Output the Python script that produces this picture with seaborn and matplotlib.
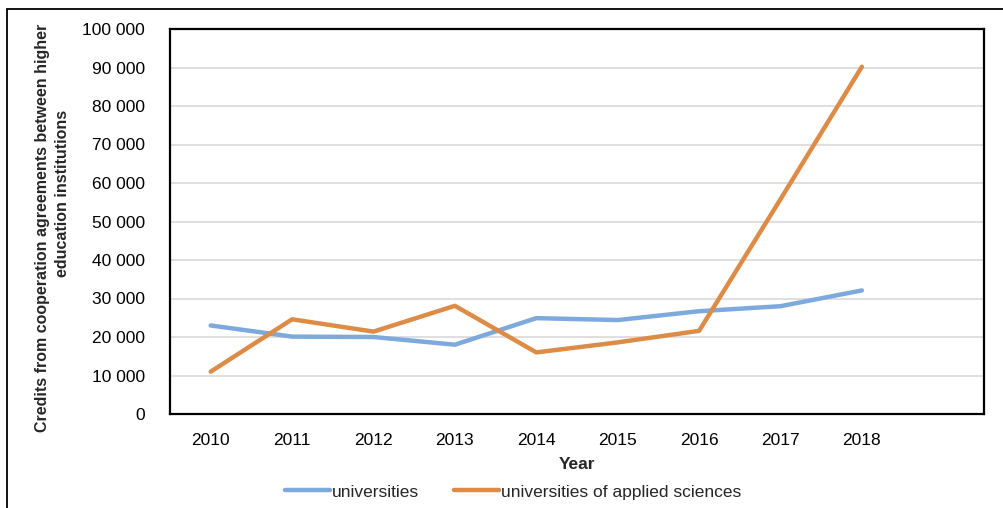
import matplotlib
matplotlib.use("Agg")
import matplotlib.pyplot as plt
import matplotlib.ticker as mticker
from matplotlib import font_manager
from matplotlib.patches import Rectangle
import seaborn as sns
import pandas as pd

# values
years = [2010, 2011, 2012, 2013, 2014, 2015, 2016, 2017, 2018]
universities = [23000, 20100, 20000, 18000, 24900, 24400, 26700, 28000, 32100]
applied_sciences = [11000, 24600, 21400, 28100, 16000, 18600, 21600, 55800, 90200]
series_names = ["universities", "universities of applied sciences"]
colors = ["#7ea9dc", "#dd8c47"]

df = pd.DataFrame({
    "Year": years * 2,
    "Credits": universities + applied_sciences,
    "Series": [series_names[0]] * len(years) + [series_names[1]] * len(years),
})

sns.set_style("white")
installed = {f.name for f in font_manager.fontManager.ttflist}
if "Liberation Sans Narrow" in installed:
    plt.rcParams["font.family"] = ["Liberation Sans Narrow", "DejaVu Sans"]
    fs, fs_title = 14, 14
else:
    plt.rcParams["font.family"] = ["Liberation Sans", "DejaVu Sans"]
    fs, fs_title = 12.5, 11.5

fig = plt.figure(figsize=(10.04, 5.08), dpi=100)
ax = fig.add_axes([170 / 1004, 1 - 414 / 508, (984 - 170) / 1004, (414 - 29) / 508])

sns.lineplot(data=df, x="Year", y="Credits", hue="Series", palette=colors,
             linewidth=3.2, ax=ax, legend=True)

ax.set_xlim(2009.5, 2019.5)
ax.set_ylim(0, 100000)
ax.set_xticks(years)
ax.set_xticklabels([str(y) for y in years])
ax.yaxis.set_major_locator(mticker.MultipleLocator(10000))
ax.yaxis.set_major_formatter(mticker.FuncFormatter(lambda v, p: f"{int(v):,}".replace(",", " ")))
ax.tick_params(axis="both", labelsize=fs, length=0, colors="black")
ax.tick_params(axis="y", pad=18)
ax.tick_params(axis="x", pad=14)

ax.grid(axis="y", color="#d9d9d9", linewidth=1.2)
ax.grid(axis="x", visible=False)
for s in ax.spines.values():
    s.set_visible(True)
    s.set_color("black")
    s.set_linewidth(1.6)

ax.set_xlabel("Year", fontsize=fs, fontweight="bold", labelpad=6)
ax.set_ylabel("")
# y title in two lines, placed like the reference
fig.text(43 / 1004, 1 - 228 / 508, "Credits from cooperation agreements between higher",
         rotation=90, ha="center", va="center", fontsize=fs_title, fontweight="bold")
fig.text(63 / 1004, 1 - 193 / 508, "education institutions",
         rotation=90, ha="center", va="center", fontsize=fs_title, fontweight="bold")

handles, labels = ax.get_legend_handles_labels()
ax.legend(handles, labels, loc="center", bbox_to_anchor=(513 / 1004, 1 - 492 / 508),
          bbox_transform=fig.transFigure, ncol=2, frameon=False, fontsize=fs,
          handlelength=2.6, handletextpad=0.1, columnspacing=2.0)

# outer chart border (runs off the right and bottom edges)
fig.patches.append(Rectangle((7 / 1004, -0.1), 1.2, 1 - 9 / 508 + 0.1,
                             transform=fig.transFigure, fill=False,
                             edgecolor="black", linewidth=1.3))

fig.savefig("out.png", dpi=100)
